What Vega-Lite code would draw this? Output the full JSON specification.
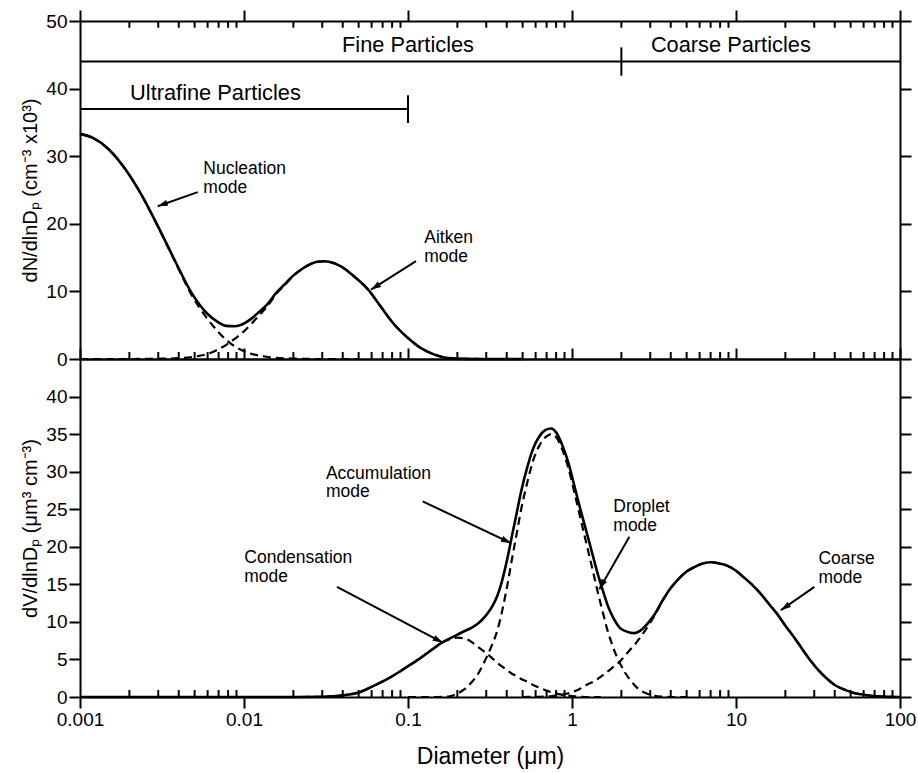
{
  "$schema": "https://vega.github.io/schema/vega-lite/v6.json",
  "padding": {"left": 20, "top": 9, "right": 5, "bottom": 5},
  "background": "white",
  "spacing": 0,
  "bounds": "flush",
  "config": {
    "view": {"stroke": null},
    "font": "Liberation Sans",
    "axis": {
      "labelFont": "Liberation Sans", "titleFont": "Liberation Sans",
      "labelColor": "black", "titleColor": "black",
      "domainColor": "black", "tickColor": "black",
      "domainWidth": 2, "tickWidth": 2, "grid": false,
      "titleFontWeight": "normal", "labelFlush": false, "labelOverlap": false
    },
    "text": {"font": "Liberation Sans", "color": "black"}
  },
  "datasets": {
    "minorTicks": [
      {"d": 0.002}, {"d": 0.003}, {"d": 0.004}, {"d": 0.005}, {"d": 0.006}, {"d": 0.007}, {"d": 0.008}, {"d": 0.009},
      {"d": 0.02}, {"d": 0.03}, {"d": 0.04}, {"d": 0.05}, {"d": 0.06}, {"d": 0.07}, {"d": 0.08}, {"d": 0.09},
      {"d": 0.2}, {"d": 0.3}, {"d": 0.4}, {"d": 0.5}, {"d": 0.6}, {"d": 0.7}, {"d": 0.8}, {"d": 0.9},
      {"d": 2}, {"d": 3}, {"d": 4}, {"d": 5}, {"d": 6}, {"d": 7}, {"d": 8}, {"d": 9},
      {"d": 20}, {"d": 30}, {"d": 40}, {"d": 50}, {"d": 60}, {"d": 70}, {"d": 80}, {"d": 90}
    ],
    "topModes": [
      {"mode": "nucleation", "d": 0.001, "v": 33.3},
      {"mode": "nucleation", "d": 0.0012, "v": 32.7},
      {"mode": "nucleation", "d": 0.0015, "v": 31.0},
      {"mode": "nucleation", "d": 0.0019, "v": 28.0},
      {"mode": "nucleation", "d": 0.0024, "v": 24.05},
      {"mode": "nucleation", "d": 0.003, "v": 19.5},
      {"mode": "nucleation", "d": 0.0038, "v": 14.4},
      {"mode": "nucleation", "d": 0.0048, "v": 9.45},
      {"mode": "nucleation", "d": 0.006, "v": 5.9},
      {"mode": "nucleation", "d": 0.0068, "v": 4.3},
      {"mode": "nucleation", "d": 0.0078, "v": 2.8},
      {"mode": "nucleation", "d": 0.0088, "v": 1.85},
      {"mode": "nucleation", "d": 0.0098, "v": 1.25},
      {"mode": "nucleation", "d": 0.011, "v": 0.8},
      {"mode": "nucleation", "d": 0.0124, "v": 0.5},
      {"mode": "nucleation", "d": 0.014, "v": 0.3},
      {"mode": "nucleation", "d": 0.0157, "v": 0.18},
      {"mode": "nucleation", "d": 0.0178, "v": 0.1},
      {"mode": "nucleation", "d": 0.0198, "v": 0.06},
      {"mode": "nucleation", "d": 0.022, "v": 0.03},
      {"mode": "nucleation", "d": 0.025, "v": 0.01},
      {"mode": "nucleation", "d": 0.03, "v": 0},
      {"mode": "nucleation", "d": 0.05, "v": 0},
      {"mode": "aitken", "d": 0.001, "v": 0},
      {"mode": "aitken", "d": 0.002, "v": 0},
      {"mode": "aitken", "d": 0.0024, "v": 0.01},
      {"mode": "aitken", "d": 0.003, "v": 0.04},
      {"mode": "aitken", "d": 0.0038, "v": 0.1},
      {"mode": "aitken", "d": 0.0048, "v": 0.3},
      {"mode": "aitken", "d": 0.006, "v": 0.75},
      {"mode": "aitken", "d": 0.0068, "v": 1.3},
      {"mode": "aitken", "d": 0.0078, "v": 2.1},
      {"mode": "aitken", "d": 0.0088, "v": 3.0},
      {"mode": "aitken", "d": 0.0098, "v": 3.9},
      {"mode": "aitken", "d": 0.011, "v": 5.1},
      {"mode": "aitken", "d": 0.0124, "v": 6.5},
      {"mode": "aitken", "d": 0.014, "v": 7.9},
      {"mode": "aitken", "d": 0.0157, "v": 9.6},
      {"mode": "aitken", "d": 0.0178, "v": 11.0},
      {"mode": "aitken", "d": 0.0198, "v": 12.2},
      {"mode": "aitken", "d": 0.022, "v": 13.1},
      {"mode": "aitken", "d": 0.025, "v": 13.95},
      {"mode": "aitken", "d": 0.0275, "v": 14.35},
      {"mode": "aitken", "d": 0.0305, "v": 14.45},
      {"mode": "aitken", "d": 0.034, "v": 14.3},
      {"mode": "aitken", "d": 0.039, "v": 13.7},
      {"mode": "aitken", "d": 0.047, "v": 12.2},
      {"mode": "aitken", "d": 0.057, "v": 10.3},
      {"mode": "aitken", "d": 0.068, "v": 7.8},
      {"mode": "aitken", "d": 0.0825, "v": 5.1},
      {"mode": "aitken", "d": 0.1, "v": 3.1},
      {"mode": "aitken", "d": 0.12, "v": 1.6},
      {"mode": "aitken", "d": 0.145, "v": 0.65},
      {"mode": "aitken", "d": 0.175, "v": 0.15},
      {"mode": "aitken", "d": 0.22, "v": 0.02},
      {"mode": "aitken", "d": 0.3, "v": 0}
    ],
    "topTotal": [
      {"d": 0.001, "v": 33.3}, {"d": 0.0012, "v": 32.7}, {"d": 0.0015, "v": 31.0},
      {"d": 0.0019, "v": 28.0}, {"d": 0.0024, "v": 24.06}, {"d": 0.003, "v": 19.54},
      {"d": 0.0038, "v": 14.5}, {"d": 0.0048, "v": 9.75}, {"d": 0.006, "v": 6.65},
      {"d": 0.0068, "v": 5.6}, {"d": 0.0078, "v": 4.9}, {"d": 0.0088, "v": 4.85},
      {"d": 0.0098, "v": 5.15}, {"d": 0.011, "v": 5.9}, {"d": 0.0124, "v": 7.0},
      {"d": 0.014, "v": 8.2}, {"d": 0.0157, "v": 9.78}, {"d": 0.0178, "v": 11.1},
      {"d": 0.0198, "v": 12.26}, {"d": 0.022, "v": 13.13}, {"d": 0.025, "v": 13.96},
      {"d": 0.0275, "v": 14.35}, {"d": 0.0305, "v": 14.45}, {"d": 0.034, "v": 14.3},
      {"d": 0.039, "v": 13.7}, {"d": 0.047, "v": 12.2}, {"d": 0.057, "v": 10.3},
      {"d": 0.068, "v": 7.8}, {"d": 0.0825, "v": 5.1}, {"d": 0.1, "v": 3.1},
      {"d": 0.12, "v": 1.6}, {"d": 0.145, "v": 0.65}, {"d": 0.175, "v": 0.15},
      {"d": 0.22, "v": 0.02}, {"d": 0.3, "v": 0}, {"d": 0.5, "v": 0}
    ],
    "topBrackets": [
      {"d": 0.001, "v": 44, "d2": 100, "v2": 44},
      {"d": 2, "v": 41.9, "d2": 2, "v2": 46.1},
      {"d": 0.001, "v": 37, "d2": 0.1, "v2": 37},
      {"d": 0.1, "v": 34.9, "d2": 0.1, "v2": 39}
    ],
    "topRegions": [
      {"label": "Fine Particles", "d": 0.1, "v": 45.4},
      {"label": "Coarse Particles", "d": 9.3, "v": 45.4},
      {"label": "Ultrafine Particles", "d": 0.0067, "v": 38.35}
    ],
    "topArrows": [
      {"name": "nucleation", "d": 0.00522, "v": 24.68, "d2": 0.002977, "v2": 22.6},
      {"name": "aitken", "d": 0.1119, "v": 14.47, "d2": 0.0595, "v2": 10.27}
    ],
    "topLabels": [
      {"label": "Nucleation\nmode", "d": 0.00565, "v": 29.4},
      {"label": "Aitken\nmode", "d": 0.1257, "v": 19.16}
    ],
    "bottomModes": [
      {"mode": "condensation", "d": 0.001, "v": 0},
      {"mode": "condensation", "d": 0.02, "v": 0},
      {"mode": "condensation", "d": 0.03, "v": 0.03},
      {"mode": "condensation", "d": 0.04, "v": 0.22},
      {"mode": "condensation", "d": 0.05, "v": 0.6},
      {"mode": "condensation", "d": 0.06, "v": 1.35},
      {"mode": "condensation", "d": 0.075, "v": 2.4},
      {"mode": "condensation", "d": 0.09, "v": 3.45},
      {"mode": "condensation", "d": 0.105, "v": 4.4},
      {"mode": "condensation", "d": 0.12, "v": 5.25},
      {"mode": "condensation", "d": 0.14, "v": 6.3},
      {"mode": "condensation", "d": 0.16, "v": 7.2},
      {"mode": "condensation", "d": 0.18, "v": 7.7},
      {"mode": "condensation", "d": 0.2, "v": 7.9},
      {"mode": "condensation", "d": 0.22, "v": 7.8},
      {"mode": "condensation", "d": 0.245, "v": 7.3},
      {"mode": "condensation", "d": 0.266, "v": 6.7},
      {"mode": "condensation", "d": 0.285, "v": 6.2},
      {"mode": "condensation", "d": 0.306, "v": 5.7},
      {"mode": "condensation", "d": 0.325, "v": 5.2},
      {"mode": "condensation", "d": 0.344, "v": 4.7},
      {"mode": "condensation", "d": 0.36, "v": 4.35},
      {"mode": "condensation", "d": 0.378, "v": 4.0},
      {"mode": "condensation", "d": 0.405, "v": 3.5},
      {"mode": "condensation", "d": 0.43, "v": 3.1},
      {"mode": "condensation", "d": 0.456, "v": 2.8},
      {"mode": "condensation", "d": 0.49, "v": 2.4},
      {"mode": "condensation", "d": 0.537, "v": 2.0},
      {"mode": "condensation", "d": 0.58, "v": 1.6},
      {"mode": "condensation", "d": 0.63, "v": 1.25},
      {"mode": "condensation", "d": 0.69, "v": 0.9},
      {"mode": "condensation", "d": 0.745, "v": 0.65},
      {"mode": "condensation", "d": 0.8, "v": 0.45},
      {"mode": "condensation", "d": 0.87, "v": 0.3},
      {"mode": "condensation", "d": 0.95, "v": 0.2},
      {"mode": "condensation", "d": 1.03, "v": 0.1},
      {"mode": "condensation", "d": 1.12, "v": 0.05},
      {"mode": "condensation", "d": 1.25, "v": 0},
      {"mode": "condensation", "d": 1.5, "v": 0},
      {"mode": "droplet", "d": 0.1, "v": 0},
      {"mode": "droplet", "d": 0.15, "v": 0},
      {"mode": "droplet", "d": 0.18, "v": 0.1},
      {"mode": "droplet", "d": 0.2, "v": 0.45},
      {"mode": "droplet", "d": 0.22, "v": 1.0},
      {"mode": "droplet", "d": 0.245, "v": 2.0},
      {"mode": "droplet", "d": 0.266, "v": 3.0},
      {"mode": "droplet", "d": 0.285, "v": 4.2},
      {"mode": "droplet", "d": 0.306, "v": 5.6},
      {"mode": "droplet", "d": 0.325, "v": 6.9},
      {"mode": "droplet", "d": 0.344, "v": 8.3},
      {"mode": "droplet", "d": 0.36, "v": 9.8},
      {"mode": "droplet", "d": 0.378, "v": 11.8},
      {"mode": "droplet", "d": 0.405, "v": 15.1},
      {"mode": "droplet", "d": 0.43, "v": 18.3},
      {"mode": "droplet", "d": 0.456, "v": 21.3},
      {"mode": "droplet", "d": 0.49, "v": 25.0},
      {"mode": "droplet", "d": 0.537, "v": 28.8},
      {"mode": "droplet", "d": 0.58, "v": 31.5},
      {"mode": "droplet", "d": 0.63, "v": 33.4},
      {"mode": "droplet", "d": 0.69, "v": 34.6},
      {"mode": "droplet", "d": 0.745, "v": 35.0},
      {"mode": "droplet", "d": 0.8, "v": 34.6},
      {"mode": "droplet", "d": 0.87, "v": 33.0},
      {"mode": "droplet", "d": 0.95, "v": 30.5},
      {"mode": "droplet", "d": 1.03, "v": 27.4},
      {"mode": "droplet", "d": 1.12, "v": 24.0},
      {"mode": "droplet", "d": 1.25, "v": 19.6},
      {"mode": "droplet", "d": 1.35, "v": 16.5},
      {"mode": "droplet", "d": 1.435, "v": 14.0},
      {"mode": "droplet", "d": 1.5, "v": 12.3},
      {"mode": "droplet", "d": 1.574, "v": 10.5},
      {"mode": "droplet", "d": 1.65, "v": 8.8},
      {"mode": "droplet", "d": 1.73, "v": 7.4},
      {"mode": "droplet", "d": 1.81, "v": 6.2},
      {"mode": "droplet", "d": 1.95, "v": 4.6},
      {"mode": "droplet", "d": 2.1, "v": 3.3},
      {"mode": "droplet", "d": 2.24, "v": 2.4},
      {"mode": "droplet", "d": 2.4, "v": 1.6},
      {"mode": "droplet", "d": 2.6, "v": 0.9},
      {"mode": "droplet", "d": 2.76, "v": 0.6},
      {"mode": "droplet", "d": 3.0, "v": 0.3},
      {"mode": "droplet", "d": 3.2, "v": 0.15},
      {"mode": "droplet", "d": 3.49, "v": 0.05},
      {"mode": "droplet", "d": 4.0, "v": 0},
      {"mode": "droplet", "d": 5.0, "v": 0},
      {"mode": "coarse", "d": 0.5, "v": 0},
      {"mode": "coarse", "d": 0.6, "v": 0.02},
      {"mode": "coarse", "d": 0.69, "v": 0.05},
      {"mode": "coarse", "d": 0.745, "v": 0.1},
      {"mode": "coarse", "d": 0.8, "v": 0.18},
      {"mode": "coarse", "d": 0.87, "v": 0.3},
      {"mode": "coarse", "d": 0.95, "v": 0.5},
      {"mode": "coarse", "d": 1.03, "v": 0.75},
      {"mode": "coarse", "d": 1.12, "v": 1.1},
      {"mode": "coarse", "d": 1.25, "v": 1.7},
      {"mode": "coarse", "d": 1.35, "v": 2.05},
      {"mode": "coarse", "d": 1.435, "v": 2.4},
      {"mode": "coarse", "d": 1.5, "v": 2.7},
      {"mode": "coarse", "d": 1.574, "v": 3.05},
      {"mode": "coarse", "d": 1.65, "v": 3.4},
      {"mode": "coarse", "d": 1.73, "v": 3.75},
      {"mode": "coarse", "d": 1.81, "v": 4.1},
      {"mode": "coarse", "d": 1.95, "v": 4.65},
      {"mode": "coarse", "d": 2.1, "v": 5.5},
      {"mode": "coarse", "d": 2.24, "v": 6.2},
      {"mode": "coarse", "d": 2.4, "v": 6.9},
      {"mode": "coarse", "d": 2.6, "v": 7.9},
      {"mode": "coarse", "d": 2.76, "v": 8.7},
      {"mode": "coarse", "d": 3.0, "v": 9.9},
      {"mode": "coarse", "d": 3.2, "v": 10.9},
      {"mode": "coarse", "d": 3.49, "v": 12.45},
      {"mode": "coarse", "d": 4.0, "v": 14.5},
      {"mode": "coarse", "d": 4.41, "v": 15.6},
      {"mode": "coarse", "d": 5.0, "v": 16.7},
      {"mode": "coarse", "d": 5.57, "v": 17.3},
      {"mode": "coarse", "d": 6.2, "v": 17.75},
      {"mode": "coarse", "d": 7.04, "v": 17.95},
      {"mode": "coarse", "d": 8.0, "v": 17.75},
      {"mode": "coarse", "d": 8.9, "v": 17.45},
      {"mode": "coarse", "d": 10.0, "v": 16.8},
      {"mode": "coarse", "d": 11.2, "v": 15.9},
      {"mode": "coarse", "d": 12.6, "v": 14.9},
      {"mode": "coarse", "d": 14.2, "v": 13.7},
      {"mode": "coarse", "d": 16.0, "v": 12.3},
      {"mode": "coarse", "d": 17.9, "v": 11.0},
      {"mode": "coarse", "d": 20.0, "v": 9.5},
      {"mode": "coarse", "d": 22.7, "v": 7.9},
      {"mode": "coarse", "d": 25.5, "v": 6.3},
      {"mode": "coarse", "d": 28.6, "v": 4.8},
      {"mode": "coarse", "d": 32.0, "v": 3.5},
      {"mode": "coarse", "d": 36.2, "v": 2.36},
      {"mode": "coarse", "d": 40.0, "v": 1.6},
      {"mode": "coarse", "d": 45.7, "v": 1.0},
      {"mode": "coarse", "d": 51.0, "v": 0.6},
      {"mode": "coarse", "d": 57.8, "v": 0.36},
      {"mode": "coarse", "d": 65.0, "v": 0.18},
      {"mode": "coarse", "d": 73.0, "v": 0.08},
      {"mode": "coarse", "d": 85.0, "v": 0.02},
      {"mode": "coarse", "d": 100.0, "v": 0}
    ],
    "bottomTotal": [
      {"d": 0.001, "v": 0}, {"d": 0.02, "v": 0}, {"d": 0.03, "v": 0.03},
      {"d": 0.04, "v": 0.22}, {"d": 0.05, "v": 0.6}, {"d": 0.06, "v": 1.35},
      {"d": 0.075, "v": 2.4}, {"d": 0.09, "v": 3.45}, {"d": 0.105, "v": 4.4},
      {"d": 0.12, "v": 5.25}, {"d": 0.14, "v": 6.3}, {"d": 0.16, "v": 7.2},
      {"d": 0.18, "v": 7.8}, {"d": 0.2, "v": 8.3}, {"d": 0.22, "v": 8.75},
      {"d": 0.245, "v": 9.25}, {"d": 0.266, "v": 9.75}, {"d": 0.285, "v": 10.35},
      {"d": 0.306, "v": 11.15}, {"d": 0.325, "v": 12.0}, {"d": 0.344, "v": 13.05},
      {"d": 0.36, "v": 14.2}, {"d": 0.378, "v": 15.8}, {"d": 0.405, "v": 18.6},
      {"d": 0.43, "v": 21.4}, {"d": 0.456, "v": 24.1}, {"d": 0.49, "v": 27.4},
      {"d": 0.537, "v": 30.8}, {"d": 0.58, "v": 33.1}, {"d": 0.63, "v": 34.65},
      {"d": 0.69, "v": 35.55}, {"d": 0.745, "v": 35.75}, {"d": 0.8, "v": 35.23},
      {"d": 0.87, "v": 33.6}, {"d": 0.95, "v": 31.2}, {"d": 1.03, "v": 28.25},
      {"d": 1.12, "v": 25.15}, {"d": 1.25, "v": 21.3}, {"d": 1.35, "v": 18.55},
      {"d": 1.435, "v": 16.4}, {"d": 1.5, "v": 15.0}, {"d": 1.574, "v": 13.55},
      {"d": 1.65, "v": 12.2}, {"d": 1.73, "v": 11.15}, {"d": 1.81, "v": 10.3},
      {"d": 1.95, "v": 9.25}, {"d": 2.1, "v": 8.8}, {"d": 2.24, "v": 8.6},
      {"d": 2.4, "v": 8.5}, {"d": 2.6, "v": 8.8}, {"d": 2.76, "v": 9.3},
      {"d": 3.0, "v": 10.2}, {"d": 3.2, "v": 11.05}, {"d": 3.49, "v": 12.5},
      {"d": 4.0, "v": 14.5}, {"d": 4.41, "v": 15.6}, {"d": 5.0, "v": 16.7},
      {"d": 5.57, "v": 17.3}, {"d": 6.2, "v": 17.75}, {"d": 7.04, "v": 17.95},
      {"d": 8.0, "v": 17.75}, {"d": 8.9, "v": 17.45}, {"d": 10.0, "v": 16.8},
      {"d": 11.2, "v": 15.9}, {"d": 12.6, "v": 14.9}, {"d": 14.2, "v": 13.7},
      {"d": 16.0, "v": 12.3}, {"d": 17.9, "v": 11.0}, {"d": 20.0, "v": 9.5},
      {"d": 22.7, "v": 7.9}, {"d": 25.5, "v": 6.3}, {"d": 28.6, "v": 4.8},
      {"d": 32.0, "v": 3.5}, {"d": 36.2, "v": 2.36}, {"d": 40.0, "v": 1.6},
      {"d": 45.7, "v": 1.0}, {"d": 51.0, "v": 0.6}, {"d": 57.8, "v": 0.36},
      {"d": 65.0, "v": 0.18}, {"d": 73.0, "v": 0.08}, {"d": 85.0, "v": 0.02},
      {"d": 100.0, "v": 0}
    ],
    "bottomArrows": [
      {"name": "condensation", "d": 0.0369, "v": 14.67, "d2": 0.1628, "v2": 7.24},
      {"name": "accumulation", "d": 0.1229, "v": 26.04, "d2": 0.4246, "v2": 20.49},
      {"name": "droplet", "d": 2.238, "v": 21.33, "d2": 1.467, "v2": 14.36},
      {"name": "coarse", "d": 30.06, "v": 14.67, "d2": 18.8, "v2": 11.56}
    ],
    "bottomLabels": [
      {"label": "Condensation\nmode", "d": 0.01004, "v": 19.7},
      {"label": "Accumulation\nmode", "d": 0.0316, "v": 30.93},
      {"label": "Droplet\nmode", "d": 1.786, "v": 26.49},
      {"label": "Coarse\nmode", "d": 31.8, "v": 19.56}
    ]
  },
  "vconcat": [
    {
      "width": 820,
      "height": 338,
      "layer": [
        {
          "data": {"name": "topModes"},
          "mark": {"type": "line", "color": "black", "strokeWidth": 2.2, "strokeDash": [8, 5], "interpolate": "monotone"},
          "encoding": {
            "x": {"field": "d", "type": "quantitative",
              "scale": {"type": "log", "domain": [0.001, 100], "nice": false},
              "axis": {"orient": "top", "title": null, "labels": false,
                "values": [0.001, 0.01, 0.1, 1, 10, 100], "tickSize": 11}},
            "y": {"field": "v", "type": "quantitative",
              "scale": {"domain": [0, 50], "nice": false, "zero": false},
              "axis": {"orient": "left", "values": [0, 10, 20, 30, 40, 50], "tickSize": 11,
                "labelPadding": 2, "labelFontSize": 19,
                "title": "dN/dlnDₚ (cm⁻³ x10³)", "titleFontSize": 20, "titlePadding": 5}},
            "detail": {"field": "mode"}
          }
        },
        {
          "data": {"name": "topTotal"},
          "mark": {"type": "line", "color": "black", "strokeWidth": 2.6, "interpolate": "monotone"},
          "encoding": {
            "x": {"field": "d", "type": "quantitative",
              "scale": {"type": "log", "domain": [0.001, 100], "nice": false},
              "axis": {"orient": "bottom", "title": null, "labels": false, "ticks": false}},
            "y": {"field": "v", "type": "quantitative",
              "scale": {"domain": [0, 50], "nice": false, "zero": false},
              "axis": {"orient": "right", "values": [0, 10, 20, 30, 40, 50], "tickSize": 11, "labels": false, "title": null}}
          }
        },
        {
          "data": {"name": "minorTicks"},
          "mark": {"type": "rule", "color": "black", "strokeWidth": 2, "clip": false},
          "encoding": {
            "x": {"field": "d", "type": "quantitative", "scale": {"type": "log", "domain": [0.001, 100], "nice": false}, "axis": null},
            "y": {"datum": 49.0, "type": "quantitative", "scale": {"domain": [0, 50], "nice": false, "zero": false}, "axis": null},
            "y2": {"datum": 50}
          }
        },
        {
          "data": {"name": "topBrackets"},
          "mark": {"type": "rule", "color": "black", "strokeWidth": 2},
          "encoding": {
            "x": {"field": "d", "type": "quantitative", "scale": {"type": "log", "domain": [0.001, 100], "nice": false}, "axis": null},
            "x2": {"field": "d2"},
            "y": {"field": "v", "type": "quantitative", "scale": {"domain": [0, 50], "nice": false, "zero": false}, "axis": null},
            "y2": {"field": "v2"}
          }
        },
        {
          "data": {"name": "topArrows"},
          "mark": {"type": "rule", "color": "black", "strokeWidth": 2},
          "encoding": {
            "x": {"field": "d", "type": "quantitative", "scale": {"type": "log", "domain": [0.001, 100], "nice": false}, "axis": null},
            "x2": {"field": "d2"},
            "y": {"field": "v", "type": "quantitative", "scale": {"domain": [0, 50], "nice": false, "zero": false}, "axis": null},
            "y2": {"field": "v2"}
          }
        },
        {
          "data": {"name": "topArrows"},
          "mark": {"type": "point", "shape": "M0,0L0.75,2.4L-0.75,2.4Z", "filled": true, "color": "black", "opacity": 1, "size": 70},
          "encoding": {
            "x": {"field": "d2", "type": "quantitative", "scale": {"type": "log", "domain": [0.001, 100], "nice": false}, "axis": null},
            "y": {"field": "v2", "type": "quantitative", "scale": {"domain": [0, 50], "nice": false, "zero": false}, "axis": null},
            "angle": {"condition": [
              {"test": "datum.name === 'nucleation'", "value": 250.7},
              {"test": "datum.name === 'aitken'", "value": 237.8}
            ], "value": 0}
          }
        },
        {
          "data": {"name": "topRegions"},
          "mark": {"type": "text", "fontSize": 21.8, "align": "center", "baseline": "alphabetic", "color": "black"},
          "encoding": {
            "x": {"field": "d", "type": "quantitative", "scale": {"type": "log", "domain": [0.001, 100], "nice": false}, "axis": null},
            "y": {"field": "v", "type": "quantitative", "scale": {"domain": [0, 50], "nice": false, "zero": false}, "axis": null},
            "text": {"field": "label"}
          }
        },
        {
          "data": {"name": "topLabels"},
          "mark": {"type": "text", "fontSize": 17.5, "align": "left", "baseline": "top", "lineBreak": "\n", "lineHeight": 18.5, "color": "black"},
          "encoding": {
            "x": {"field": "d", "type": "quantitative", "scale": {"type": "log", "domain": [0.001, 100], "nice": false}, "axis": null},
            "y": {"field": "v", "type": "quantitative", "scale": {"domain": [0, 50], "nice": false, "zero": false}, "axis": null},
            "text": {"field": "label"}
          }
        }
      ],
      "resolve": {"axis": {"x": "independent", "y": "independent"}}
    },
    {
      "width": 820,
      "height": 338,
      "layer": [
        {
          "data": {"name": "bottomModes"},
          "mark": {"type": "line", "color": "black", "strokeWidth": 2.2, "strokeDash": [8, 5], "interpolate": "monotone"},
          "encoding": {
            "x": {"field": "d", "type": "quantitative",
              "scale": {"type": "log", "domain": [0.001, 100], "nice": false},
              "axis": {"orient": "top", "title": null, "labels": false,
                "values": [0.001, 0.01, 0.1, 1, 10, 100], "tickSize": 11}},
            "y": {"field": "v", "type": "quantitative",
              "scale": {"domain": [0, 45], "nice": false, "zero": false},
              "axis": {"orient": "left", "values": [0, 5, 10, 15, 20, 25, 30, 35, 40], "tickSize": 11,
                "labelPadding": 2, "labelFontSize": 19,
                "title": "dV/dlnDₚ (μm³ cm⁻³)", "titleFontSize": 20, "titlePadding": 5}},
            "detail": {"field": "mode"}
          }
        },
        {
          "data": {"name": "bottomTotal"},
          "mark": {"type": "line", "color": "black", "strokeWidth": 2.6, "interpolate": "monotone"},
          "encoding": {
            "x": {"field": "d", "type": "quantitative",
              "scale": {"type": "log", "domain": [0.001, 100], "nice": false},
              "axis": {"orient": "bottom",
                "values": [0.001, 0.01, 0.1, 1, 10, 100], "tickSize": 11,
                "labelExpr": "format(datum.value, '~g')",
                "labelFontSize": 19, "labelPadding": 2,
                "title": "Diameter (μm)", "titleFontSize": 23, "titlePadding": 16}},
            "y": {"field": "v", "type": "quantitative",
              "scale": {"domain": [0, 45], "nice": false, "zero": false},
              "axis": {"orient": "right", "values": [0, 5, 10, 15, 20, 25, 30, 35, 40], "tickSize": 11, "labels": false, "title": null}}
          }
        },
        {
          "data": {"name": "minorTicks"},
          "mark": {"type": "rule", "color": "black", "strokeWidth": 2, "clip": false},
          "encoding": {
            "x": {"field": "d", "type": "quantitative", "scale": {"type": "log", "domain": [0.001, 100], "nice": false}, "axis": null},
            "y": {"datum": 45, "type": "quantitative", "scale": {"domain": [0, 45], "nice": false, "zero": false}, "axis": null},
            "y2": {"datum": 45.93}
          }
        },
        {
          "data": {"name": "minorTicks"},
          "mark": {"type": "rule", "color": "black", "strokeWidth": 2, "clip": false},
          "encoding": {
            "x": {"field": "d", "type": "quantitative", "scale": {"type": "log", "domain": [0.001, 100], "nice": false}, "axis": null},
            "y": {"datum": 0, "type": "quantitative", "scale": {"domain": [0, 45], "nice": false, "zero": false}, "axis": null},
            "y2": {"datum": 0.93}
          }
        },
        {
          "data": {"name": "bottomArrows"},
          "mark": {"type": "rule", "color": "black", "strokeWidth": 2},
          "encoding": {
            "x": {"field": "d", "type": "quantitative", "scale": {"type": "log", "domain": [0.001, 100], "nice": false}, "axis": null},
            "x2": {"field": "d2"},
            "y": {"field": "v", "type": "quantitative", "scale": {"domain": [0, 45], "nice": false, "zero": false}, "axis": null},
            "y2": {"field": "v2"}
          }
        },
        {
          "data": {"name": "bottomArrows"},
          "mark": {"type": "point", "shape": "M0,0L0.75,2.4L-0.75,2.4Z", "filled": true, "color": "black", "opacity": 1, "size": 70},
          "encoding": {
            "x": {"field": "d2", "type": "quantitative", "scale": {"type": "log", "domain": [0.001, 100], "nice": false}, "axis": null},
            "y": {"field": "v2", "type": "quantitative", "scale": {"domain": [0, 45], "nice": false, "zero": false}, "axis": null},
            "angle": {"condition": [
              {"test": "datum.name === 'condensation'", "value": 117.8},
              {"test": "datum.name === 'accumulation'", "value": 115.2},
              {"test": "datum.name === 'droplet'", "value": 209.8},
              {"test": "datum.name === 'coarse'", "value": 235}
            ], "value": 0}
          }
        },
        {
          "data": {"name": "bottomLabels"},
          "mark": {"type": "text", "fontSize": 17.5, "align": "left", "baseline": "top", "lineBreak": "\n", "lineHeight": 18.5, "color": "black"},
          "encoding": {
            "x": {"field": "d", "type": "quantitative", "scale": {"type": "log", "domain": [0.001, 100], "nice": false}, "axis": null},
            "y": {"field": "v", "type": "quantitative", "scale": {"domain": [0, 45], "nice": false, "zero": false}, "axis": null},
            "text": {"field": "label"}
          }
        }
      ],
      "resolve": {"axis": {"x": "independent", "y": "independent"}}
    }
  ]
}
